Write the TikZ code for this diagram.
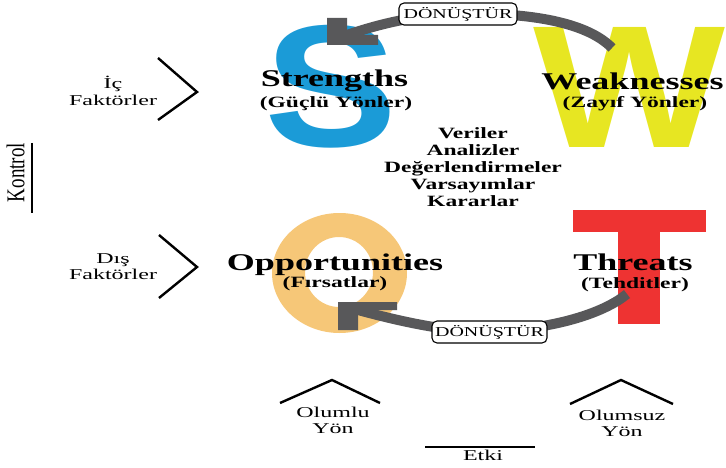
\documentclass[tikz,border=0pt]{standalone}
\usepackage{fontspec}
\usepackage{graphicx}
\setmainfont{Liberation Serif}
\newfontfamily\letterfont{Liberation Sans}

\definecolor{sblue}{HTML}{1B9BD7}
\definecolor{wyellow}{HTML}{E7E622}
\definecolor{oorange}{HTML}{F6C778}
\definecolor{tred}{HTML}{EE3332}
\definecolor{shaftgray}{HTML}{58585A}

% horizontal stretch of a piece of text
\newcommand{\hstretch}[2]{\scalebox{#1}[1]{#2}}

\begin{document}
\begin{tikzpicture}[x=1pt,y=-1pt,
  bigtitle/.style={inner sep=0pt, anchor=base, font=\fontsize{24}{26}\selectfont\bfseries},
  subtitle/.style={inner sep=0pt, anchor=base, font=\fontsize{15.7}{17}\selectfont\bfseries},
  plainlabel/.style={inner sep=0pt, anchor=base, font=\fontsize{15}{16.5}\selectfont},
  chevron/.style={line width=2.4pt, miter limit=10},
  shaft/.style={line width=10pt, draw=shaftgray},
  headfill/.style={fill=shaftgray},
  convbox/.style={draw, line width=1.1pt, fill=white, rounded corners=5pt,
    minimum width=118pt, minimum height=22pt, inner sep=0pt,
    font=\fontsize{13.6}{14}\selectfont},
]
\useasboundingbox (0,0) rectangle (726,468);

% big coloured letters
\node[inner sep=0pt] (S) at (331.5,86.5)
  {\color{sblue}\resizebox*{133pt}{123pt}{\letterfont\bfseries S}};
\node[inner sep=0pt] (W) at (630,87)
  {\color{wyellow}\resizebox*{192pt}{120pt}{\letterfont\bfseries W}};
\fill[oorange, even odd rule]
  (339.5,273) ellipse [x radius=67.5, y radius=60]
  (339,272) ellipse [x radius=34, y radius=35];
\fill[tred] (573,210) rectangle (706,232);
\fill[tred] (618,231) rectangle (660,324);

% conversion boxes (positions for the shafts)
\coordinate (dtop) at (458,14);
\coordinate (dbot) at (489.5,332);

% arrow shafts
\coordinate (wTail) at (612,48);
\coordinate (sTip) at (347,35);
\coordinate (tTail) at (627,294);
\coordinate (oTip) at (358,310);
\draw[shaft] (wTail) .. controls (585,20) and (520,12) .. (dtop)
  .. controls (420,15) and (385,22) .. (sTip);
\draw[shaft] (tTail) .. controls (605,312) and (560,328) .. (dbot)
  .. controls (445,332) and (395,320) .. (oTip);
% arrow heads
\fill[headfill] (327,18) -- (347,18) -- (347,35) -- (378,35) -- (378,45) -- (327,45) -- cycle;
\fill[headfill] (338,302) -- (397,302) -- (397,310) -- (358,310) -- (358,330) -- (338,330) -- cycle;

% the boxes sit above the shafts
\node[convbox] (boxtop) at (dtop) {\hstretch{1.47}{DÖNÜŞTÜR}};
\node[convbox, minimum width=115pt] (boxbot) at (dbot) {\hstretch{1.47}{DÖNÜŞTÜR}};

% quadrant titles
\node[bigtitle] (st) at (334.5,87) {\hstretch{1.5}{Strengths}};
\node[subtitle] (sst) at (336,108) {\hstretch{1.5}{(Güçlü Yönler)}};
\node[bigtitle] (wt) at (632.5,90) {\hstretch{1.5}{Weaknesses}};
\node[subtitle] (swt) at (635,108) {\hstretch{1.5}{(Zayıf Yönler)}};
\node[bigtitle] (ot) at (335,270) {\hstretch{1.5}{Opportunities}};
\node[subtitle] (sot) at (335,287) {\hstretch{1.5}{(Fırsatlar)}};
\node[bigtitle] (tt) at (633,270) {\hstretch{1.5}{Threats}};
\node[subtitle] (stt) at (635,288) {\hstretch{1.5}{(Tehditler)}};

% centre list
\node[subtitle] (mid) at (473,139) {\hstretch{1.5}{\begin{tabular}[t]{@{}c@{}}
  Veriler\\ Analizler\\ Değerlendirmeler\\ Varsayımlar\\ Kararlar\end{tabular}}};

% side and bottom labels
\node[plainlabel] (ic) at (113,89) {\hstretch{1.6}{\begin{tabular}[t]{@{}c@{}}İç\\ Faktörler\end{tabular}}};
\node[plainlabel] (dis) at (113,263) {\hstretch{1.6}{\begin{tabular}[t]{@{}c@{}}Dış\\ Faktörler\end{tabular}}};
\node[plainlabel] (olumlu) at (333,417) {\hstretch{1.6}{\begin{tabular}[t]{@{}c@{}}Olumlu\\ Yön\end{tabular}}};
\node[plainlabel] (olumsuz) at (622,420) {\hstretch{1.6}{\begin{tabular}[t]{@{}c@{}}Olumsuz\\ Yön\end{tabular}}};
\node[plainlabel] (etki) at (483,460) {\hstretch{1.6}{Etki}};
\node[inner sep=0pt, rotate=90, font=\fontsize{19}{20}\selectfont] (kontrol) at (15.5,172.5)
  {\scalebox{1}[1.35]{Kontrol}};

% chevrons and rules
\draw[chevron] (158,58) -- (197,92) -- (158,120);
\draw[chevron] (159,235) -- (197,267) -- (159,298);
\draw[chevron] (280,403) -- (332,380) -- (380,403);
\draw[chevron] (570,404) -- (621,380) -- (673,404);
\draw[line width=2pt] (425,447) -- (535,447);
\draw[line width=2.5pt] (32,143) -- (32,213);
\end{tikzpicture}
\end{document}
